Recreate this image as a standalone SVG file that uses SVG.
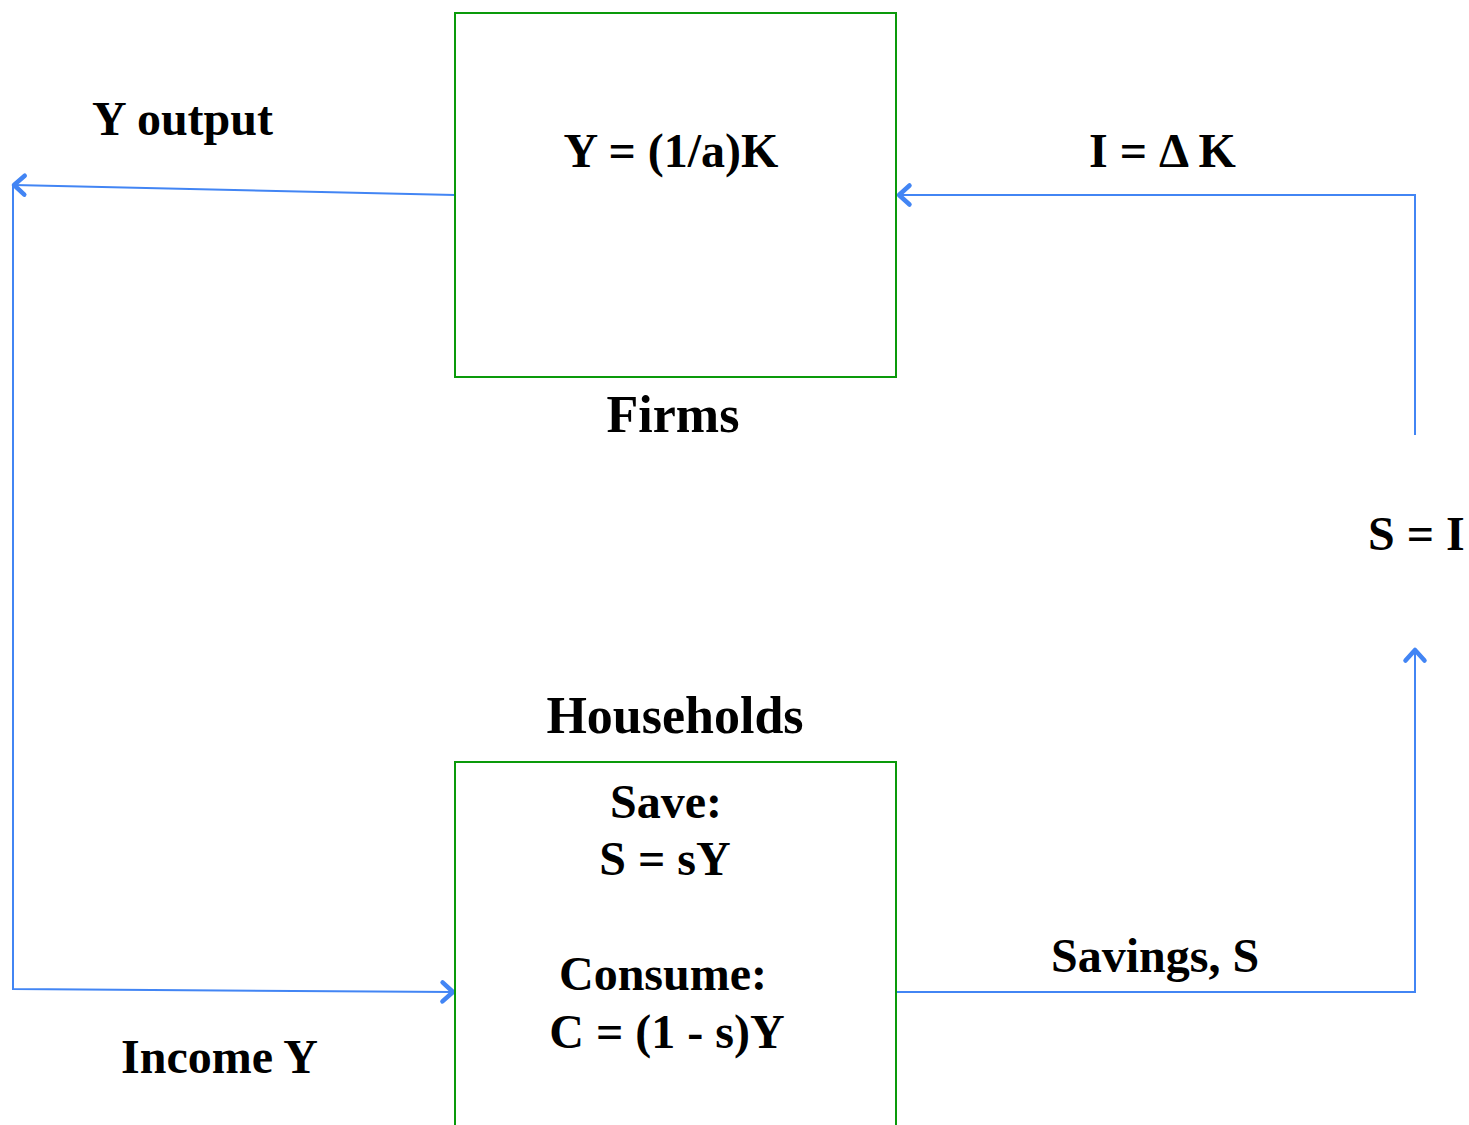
<svg xmlns="http://www.w3.org/2000/svg" width="1469" height="1125" viewBox="0 0 1469 1125">
<style>
.box{fill:#fff;stroke:#0a9a0a;stroke-width:2}
.t{font-family:"Liberation Serif","Times New Roman",serif;font-weight:bold;fill:#000;font-size:48px}
.big{font-size:52px}
.c{stroke:#4285f4;stroke-width:2;fill:none}
</style>
<defs>
<marker id="arr" markerWidth="26" markerHeight="26" refX="20" refY="13" orient="auto" markerUnits="userSpaceOnUse">
<path d="M9.5,3.5 L20,13 L9.5,22.5" fill="none" stroke="#4285f4" stroke-width="4.5" stroke-linecap="round" stroke-linejoin="round"/>
</marker>
</defs>
<rect width="1469" height="1125" fill="#fff"/>
<g id="connectors">
<path class="c" d="M455,195 L14,185" marker-end="url(#arr)"/>
<path class="c" d="M13,185 L13,989 L453,992" marker-end="url(#arr)"/>
<path class="c" d="M897,992 L1415,992 L1415,650" marker-end="url(#arr)"/>
<path class="c" d="M1415,435 L1415,195 L899,195" marker-end="url(#arr)"/>
</g>
<g id="firms">
<rect class="box" x="455" y="13" width="441" height="364"/>
<text class="t" x="671" y="167" text-anchor="middle">Y = (1/a)K</text>
<text class="t big" x="673" y="432" text-anchor="middle">Firms</text>
</g>
<g id="households">
<rect class="box" x="455" y="762" width="441" height="380"/>
<text class="t big" x="675" y="733" text-anchor="middle">Households</text>
<text class="t" x="666" y="818" text-anchor="middle">Save:</text>
<text class="t" x="665" y="875" text-anchor="middle">S = sY</text>
<text class="t" x="663" y="990" text-anchor="middle">Consume:</text>
<text class="t" x="667" y="1048" text-anchor="middle">C = (1 - s)Y</text>
</g>
<g id="labels">
<text class="t" x="92" y="135">Y output</text>
<text class="t" x="1089" y="167">I = Δ K</text>
<text class="t" x="1368" y="550">S = I</text>
<text class="t" x="1051" y="972">Savings, S</text>
<text class="t" x="121" y="1073">Income Y</text>
</g>
</svg>
